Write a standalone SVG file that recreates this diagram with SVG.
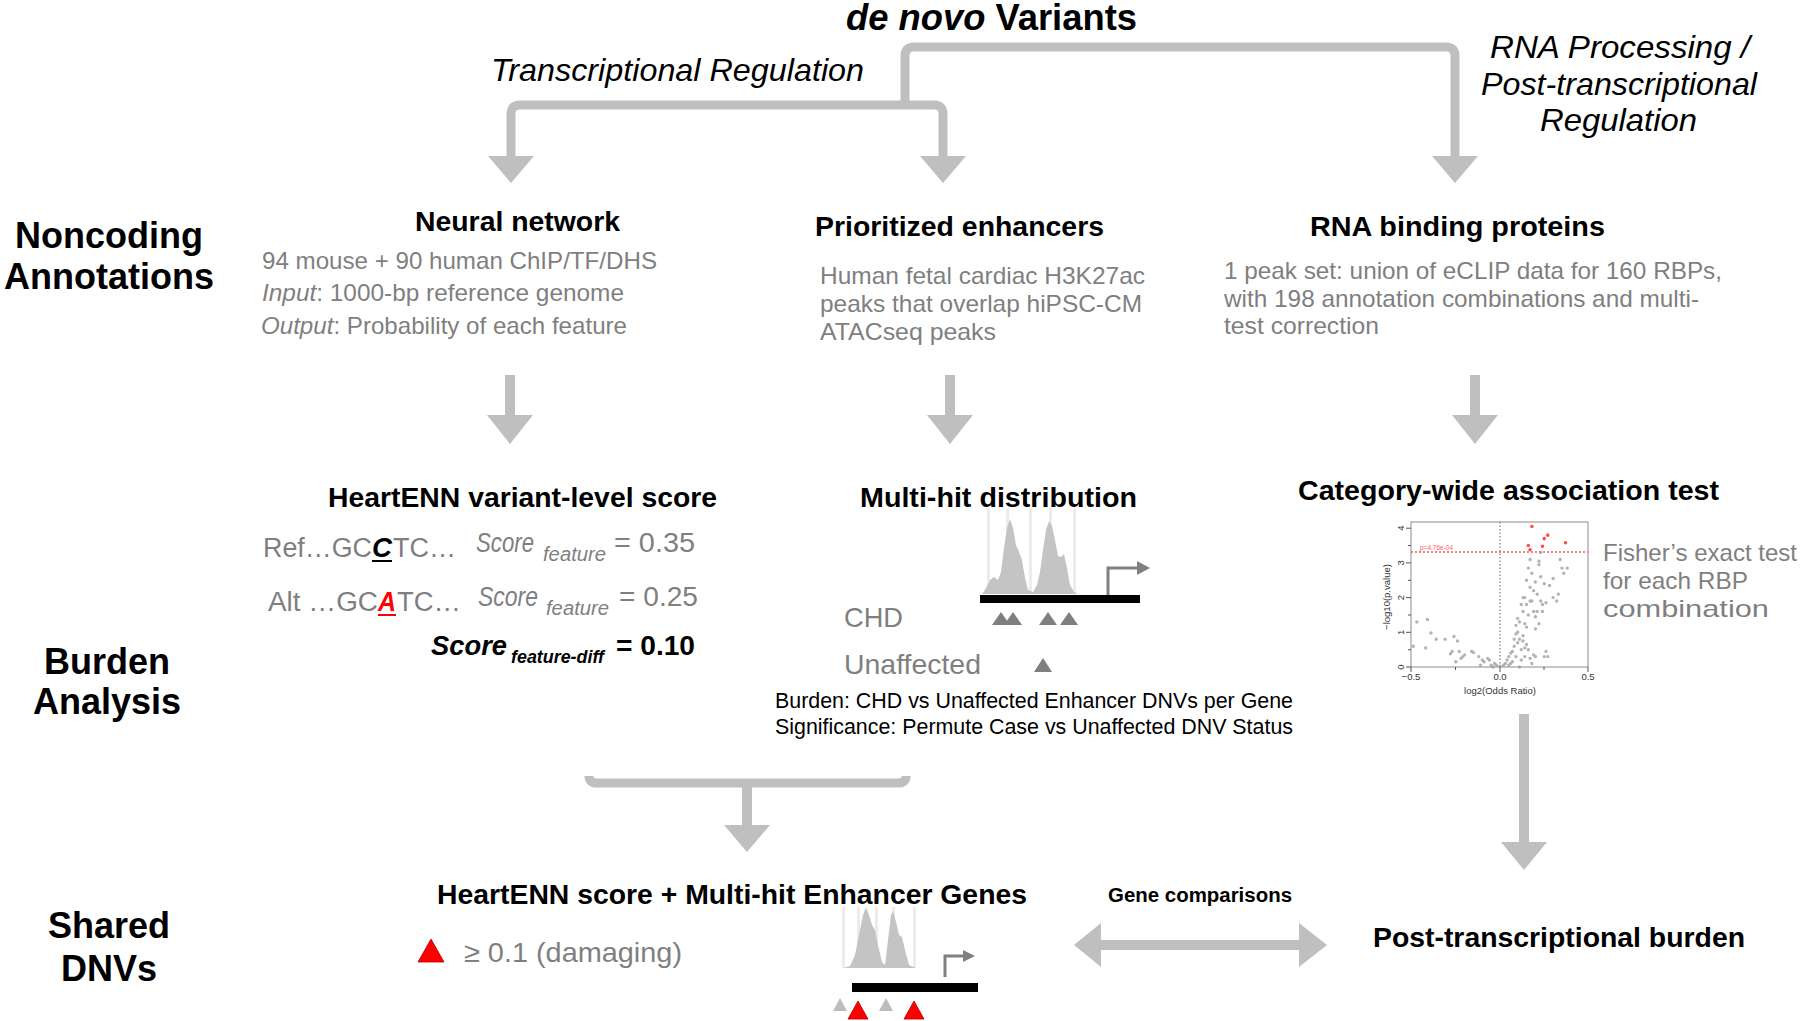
<svg xmlns="http://www.w3.org/2000/svg" width="1800" height="1021" viewBox="0 0 1800 1021">
<defs>
<style>
text{font-family:"Liberation Sans",Arial,sans-serif;}
.conn{fill:none;stroke:#bfbfbf;stroke-width:9;}
.shaft{stroke:#bfbfbf;stroke-width:10;}
.head{fill:#bfbfbf;}
.side{font-size:36px;font-weight:bold;fill:#000;text-anchor:middle;}
.hdr{font-size:28px;font-weight:bold;fill:#000;}
.gray{font-size:24px;fill:#7f7f7f;}
.branch{font-size:32px;font-style:italic;fill:#000;}
.seq{font-size:27px;fill:#7f7f7f;}
.score{font-size:28px;font-style:italic;fill:#7f7f7f;}
.sub{font-size:20px;font-style:italic;fill:#7f7f7f;}
.lab{font-size:28px;fill:#7f7f7f;}
.blk{font-size:22px;fill:#000;}
.peak{fill:#c4c4c4;}
.streak{fill:#ececec;}
.tri{fill:#7f7f7f;}
.ltri{fill:#bdbdbd;}
.rtri{fill:#ff0000;stroke:#b00000;stroke-width:0.8;}
.prom{fill:none;stroke:#808080;stroke-width:3;}
.promh{fill:#808080;}
.ax{font-size:9.5px;fill:#333;}
</style>
</defs>
<rect width="1800" height="1021" fill="#fff"/>

<g id="connectors">
  <path class="conn" d="M511,158 L511,114 Q511,105 520,105 L934,105 Q943,105 943,114 L943,158"/>
  <path class="conn" d="M905,105 L905,56 Q905,47 914,47 L1446,47 Q1455,47 1455,56 L1455,158"/>
  <polygon class="head" points="488,156 534,156 511,183"/>
  <polygon class="head" points="920,156 966,156 943,183"/>
  <polygon class="head" points="1432,156 1478,156 1455,183"/>
  <line class="shaft" x1="510" y1="375" x2="510" y2="418"/>
  <polygon class="head" points="487,415 533,415 510,444"/>
  <line class="shaft" x1="950" y1="375" x2="950" y2="418"/>
  <polygon class="head" points="927,415 973,415 950,444"/>
  <line class="shaft" x1="1475" y1="375" x2="1475" y2="418"/>
  <polygon class="head" points="1452,415 1498,415 1475,444"/>
  <path class="conn" d="M589,776 Q589,783 597,783 L898,783 Q906,783 906,776"/>
  <line class="shaft" x1="747" y1="783" x2="747" y2="827"/>
  <polygon class="head" points="724,825 770,825 747,852"/>
  <line class="shaft" x1="1524" y1="714" x2="1524" y2="845"/>
  <polygon class="head" points="1501,842 1547,842 1524,870"/>
  <polygon class="head" points="1074,945 1101,923 1101,940 1299,940 1299,923 1327,945 1299,967 1299,950 1101,950 1101,967"/>
</g>

<g id="title">
  <text x="846" y="30" font-size="36" font-weight="bold" textLength="291" lengthAdjust="spacingAndGlyphs"><tspan font-style="italic">de novo</tspan> Variants</text>
</g>
<g id="branch-labels">
  <text class="branch" x="491" y="81" textLength="373" lengthAdjust="spacingAndGlyphs">Transcriptional Regulation</text>
  <text class="branch" x="1490" y="58" textLength="260" lengthAdjust="spacingAndGlyphs">RNA Processing /</text>
  <text class="branch" x="1481" y="95" textLength="276" lengthAdjust="spacingAndGlyphs">Post-transcriptional</text>
  <text class="branch" x="1540" y="131" textLength="157" lengthAdjust="spacingAndGlyphs">Regulation</text>
</g>

<g id="row-labels">
  <text class="side" x="109" y="248">Noncoding</text>
  <text class="side" x="109" y="289">Annotations</text>
  <text class="side" x="107" y="674">Burden</text>
  <text class="side" x="107" y="714">Analysis</text>
  <text class="side" x="109" y="938">Shared</text>
  <text class="side" x="109" y="981">DNVs</text>
</g>

<g id="neural-network">
  <text class="hdr" x="415" y="231" textLength="205" lengthAdjust="spacingAndGlyphs">Neural network</text>
  <text class="gray" x="262" y="269" textLength="395" lengthAdjust="spacingAndGlyphs">94 mouse + 90 human ChIP/TF/DHS</text>
  <text class="gray" x="262" y="301" textLength="362" lengthAdjust="spacingAndGlyphs"><tspan font-style="italic">Input</tspan>: 1000-bp reference genome</text>
  <text class="gray" x="261" y="334" textLength="366" lengthAdjust="spacingAndGlyphs"><tspan font-style="italic">Output</tspan>: Probability of each feature</text>
</g>

<g id="prioritized-enhancers">
  <text class="hdr" x="815" y="236" textLength="289" lengthAdjust="spacingAndGlyphs">Prioritized enhancers</text>
  <text class="gray" x="820" y="284" textLength="325" lengthAdjust="spacingAndGlyphs">Human fetal cardiac H3K27ac</text>
  <text class="gray" x="820" y="312" textLength="322" lengthAdjust="spacingAndGlyphs">peaks that overlap hiPSC-CM</text>
  <text class="gray" x="820" y="340" textLength="176" lengthAdjust="spacingAndGlyphs">ATACseq peaks</text>
</g>

<g id="rna-binding-proteins">
  <text class="hdr" x="1310" y="236" textLength="295" lengthAdjust="spacingAndGlyphs">RNA binding proteins</text>
  <text class="gray" x="1224" y="279" textLength="498" lengthAdjust="spacingAndGlyphs">1 peak set: union of eCLIP data for 160 RBPs,</text>
  <text class="gray" x="1224" y="307" textLength="475" lengthAdjust="spacingAndGlyphs">with 198 annotation combinations and multi-</text>
  <text class="gray" x="1224" y="334" textLength="155" lengthAdjust="spacingAndGlyphs">test correction</text>
</g>

<g id="heartenn-score">
  <text class="hdr" x="328" y="507" textLength="389" lengthAdjust="spacingAndGlyphs">HeartENN variant-level score</text>
  <text class="seq" x="263" y="557" textLength="109" lengthAdjust="spacingAndGlyphs">Ref…GC</text>
  <text x="372" y="557" font-size="27" font-weight="bold" font-style="italic" fill="#000" textLength="20" lengthAdjust="spacingAndGlyphs">C</text>
  <line x1="372" y1="561" x2="392" y2="561" stroke="#000" stroke-width="2"/>
  <text class="seq" x="393" y="557" textLength="63" lengthAdjust="spacingAndGlyphs">TC…</text>
  <text class="seq" x="268" y="611" textLength="110" lengthAdjust="spacingAndGlyphs">Alt …GC</text>
  <text x="378" y="611" font-size="27" font-weight="bold" font-style="italic" fill="#ff0000" textLength="18" lengthAdjust="spacingAndGlyphs">A</text>
  <line x1="378" y1="615" x2="396" y2="615" stroke="#ff0000" stroke-width="2"/>
  <text class="seq" x="397" y="611" textLength="64" lengthAdjust="spacingAndGlyphs">TC…</text>
  <text class="score" x="476" y="552" textLength="58" lengthAdjust="spacingAndGlyphs">Score</text>
  <text class="sub" x="543" y="561" textLength="63" lengthAdjust="spacingAndGlyphs">feature</text>
  <text class="seq" x="614" y="552" textLength="81" lengthAdjust="spacingAndGlyphs">= 0.35</text>
  <text class="score" x="478" y="606" textLength="60" lengthAdjust="spacingAndGlyphs">Score</text>
  <text class="sub" x="546" y="615" textLength="63" lengthAdjust="spacingAndGlyphs">feature</text>
  <text class="seq" x="619" y="606" textLength="79" lengthAdjust="spacingAndGlyphs">= 0.25</text>
  <text x="431" y="655" font-size="28" font-weight="bold" font-style="italic" fill="#000" textLength="76" lengthAdjust="spacingAndGlyphs">Score</text>
  <text x="511" y="663" font-size="19" font-weight="bold" font-style="italic" fill="#000" textLength="93" lengthAdjust="spacingAndGlyphs">feature-diff</text>
  <text x="616" y="655" font-size="28" font-weight="bold" fill="#000" textLength="79" lengthAdjust="spacingAndGlyphs">= 0.10</text>
</g>

<g id="multi-hit-distribution">
  <text class="hdr" x="860" y="507" textLength="277" lengthAdjust="spacingAndGlyphs">Multi-hit distribution</text>
  <rect class="streak" x="987" y="508" width="3" height="86"/>
  <rect class="streak" x="1006" y="508" width="3" height="86"/>
  <rect class="streak" x="1029" y="508" width="3" height="86"/>
  <rect class="streak" x="1049" y="508" width="3" height="86"/>
  <rect class="streak" x="1073" y="508" width="3" height="86"/>
  <path class="peak" d="M982,594 L986,588 L990,580 L994,577 L998,580 L1001,572 L1004,548 L1007,528 L1010,519 L1013,528 L1016,545 L1019,552 L1022,560 L1025,578 L1028,590 L1033,592 L1037,585 L1040,572 L1043,550 L1046,530 L1049,521 L1052,526 L1055,540 L1058,556 L1061,557 L1064,554 L1067,568 L1070,585 L1074,592 L1078,594 Z"/>
  <rect x="980" y="595" width="160" height="8" fill="#000"/>
  <path class="prom" d="M1108,595 V568 H1139"/>
  <polygon class="promh" points="1137,561 1150,568 1137,575"/>
  <polygon class="tri" points="992,625 1001,612 1010,625"/>
  <polygon class="tri" points="1004,625 1013,612 1022,625"/>
  <polygon class="tri" points="1039,625 1048,612 1057,625"/>
  <polygon class="tri" points="1060,625 1069,612 1078,625"/>
  <polygon class="tri" points="1034,672 1043,658 1052,672"/>
  <text class="lab" x="844" y="627" textLength="59" lengthAdjust="spacingAndGlyphs">CHD</text>
  <text class="lab" x="844" y="674" textLength="137" lengthAdjust="spacingAndGlyphs">Unaffected</text>
  <text class="blk" x="775" y="708" textLength="518" lengthAdjust="spacingAndGlyphs">Burden: CHD vs Unaffected Enhancer DNVs per Gene</text>
  <text class="blk" x="775" y="734" textLength="518" lengthAdjust="spacingAndGlyphs">Significance: Permute Case vs Unaffected DNV Status</text>
</g>

<g id="category-wide-test">
  <text class="hdr" x="1298" y="500" textLength="421" lengthAdjust="spacingAndGlyphs">Category-wide association test</text>
  <rect x="1411" y="522" width="177" height="145" fill="#fff" stroke="#8c8c8c" stroke-width="1"/>
  <line x1="1500" y1="522" x2="1500" y2="667" stroke="#666" stroke-width="1" stroke-dasharray="1.5,2"/>
  <line x1="1411" y1="552" x2="1588" y2="552" stroke="#ff5a5a" stroke-width="1.3" stroke-dasharray="2,2"/>
  <text x="1420" y="550" font-size="6.5" fill="#ff5a5a">p=4.76e-04</text>
  <g stroke="#555" stroke-width="1">
    <line x1="1406" y1="667" x2="1411" y2="667"/>
    <line x1="1406" y1="632.3" x2="1411" y2="632.3"/>
    <line x1="1406" y1="597.6" x2="1411" y2="597.6"/>
    <line x1="1406" y1="562.9" x2="1411" y2="562.9"/>
    <line x1="1406" y1="528.2" x2="1411" y2="528.2"/>
    <line x1="1408" y1="649.7" x2="1411" y2="649.7"/>
    <line x1="1408" y1="615" x2="1411" y2="615"/>
    <line x1="1408" y1="580.3" x2="1411" y2="580.3"/>
    <line x1="1408" y1="545.6" x2="1411" y2="545.6"/>
    <line x1="1411" y1="667" x2="1411" y2="672"/>
    <line x1="1500" y1="667" x2="1500" y2="672"/>
    <line x1="1588" y1="667" x2="1588" y2="672"/>
    <line x1="1455.5" y1="667" x2="1455.5" y2="670"/>
    <line x1="1544" y1="667" x2="1544" y2="670"/>
  </g>
  <text class="ax" transform="translate(1404,667) rotate(-90)" text-anchor="middle">0</text>
  <text class="ax" transform="translate(1404,632.3) rotate(-90)" text-anchor="middle">1</text>
  <text class="ax" transform="translate(1404,597.6) rotate(-90)" text-anchor="middle">2</text>
  <text class="ax" transform="translate(1404,562.9) rotate(-90)" text-anchor="middle">3</text>
  <text class="ax" transform="translate(1404,528.2) rotate(-90)" text-anchor="middle">4</text>
  <text class="ax" x="1411" y="680" text-anchor="middle">−0.5</text>
  <text class="ax" x="1500" y="680" text-anchor="middle">0.0</text>
  <text class="ax" x="1588" y="680" text-anchor="middle">0.5</text>
  <text class="ax" x="1500" y="694" text-anchor="middle" font-size="10">log2(Odds Ratio)</text>
  <text class="ax" transform="translate(1390,597) rotate(-90)" text-anchor="middle" font-size="10">−log10(p.value)</text>
  <g transform="translate(1500,667) scale(177,-34.7)">
    <path fill="none" stroke="#9a9a9a" stroke-opacity="0.75" stroke-width="3.4" stroke-linecap="round" vector-effect="non-scaling-stroke" d="M-0.47,1.3h0M-0.49,0.6h0M-0.41,1.37h0M-0.42,0.55h0M-0.39,0.98h0M-0.36,0.8h0M-0.31,0.8h0M-0.26,0.88h0M-0.27,0.45h0M-0.24,0.75h0M-0.28,0.38h0M-0.23,0.45h0M-0.22,0.25h0M-0.21,0.3h0M-0.16,0.45h0M-0.15,0.42h0M-0.12,0.3h0M-0.1,0.2h0M-0.09,0.15h0M-0.07,0.25h0M-0.06,0.2h0M-0.05,0.05h0M-0.03,0.1h0M-0.02,0.05h0M-0.11,0.05h0M-0.04,0h0M-0.25,0.15h0M-0.2,0.35h0M0,0.02h0M0.02,0.05h0M0.03,0.1h0M0.04,0.2h0M0.05,0.3h0M0.06,0.4h0M0.07,0.45h0M0.06,0.1h0M0.08,0.6h0M0.08,0.8h0M0.09,0.95h0M0.1,0.7h0M0.1,1h0M0.11,1.3h0M0.12,0.5h0M0.13,0.9h0M0.13,1.6h0M0.14,1.25h0M0.15,1.8h0M0.15,0.65h0M0.16,1.5h0M0.14,2h0M0.15,2.5h0M0.16,2.85h0M0.17,3.1h0M0.17,2.3h0M0.18,1.9h0M0.19,1.6h0M0.19,2.2h0M0.2,2.45h0M0.2,1.45h0M0.21,2.1h0M0.22,2.95h0M0.22,3.05h0M0.23,3.3h0M0.23,1.9h0M0.24,1.8h0M0.24,1.6h0M0.25,2.4h0M0.25,0.3h0M0.26,0.45h0M0.27,0.3h0M0.3,2h0M0.3,2.55h0M0.32,1.9h0M0.33,2.1h0M0.34,3.1h0M0.35,2.85h0M0.36,2.7h0M0.38,2.85h0M0.12,0.2h0M0.09,0.3h0M0.14,0.3h0M0.17,0.25h0M0.2,0.3h0M0.18,0.1h0M0.11,0h0M0.16,0.5h0M0.13,0.75h0M0.1,1.4h0M0.12,1.8h0M0.07,0.15h0M0.05,0.05h0M0.19,0.35h0M0.22,1.25h0M0.2,1.1h0M0.11,0.8h0M0.15,1.15h0M0.13,2h0M0.17,1.9h0M0.26,1.85h0M0.28,2.35h0M0.23,2.6h0M0.18,2.7h0M0.21,1.6h0M0.09,1.2h0M0.14,0.55h0"/>
    <path fill="none" stroke="#ff4d4d" stroke-width="3.6" stroke-linecap="round" vector-effect="non-scaling-stroke" d="M0.18,4.05h0M0.27,3.8h0M0.25,3.7h0M0.16,3.5h0M0.24,3.48h0M0.17,3.38h0M0.37,3.58h0"/>
  </g>
  <text class="gray" x="1603" y="561" textLength="194" lengthAdjust="spacingAndGlyphs">Fisher’s exact test</text>
  <text class="gray" x="1603" y="589" textLength="145" lengthAdjust="spacingAndGlyphs">for each RBP</text>
  <text class="gray" x="1603" y="617" textLength="166" lengthAdjust="spacingAndGlyphs">combination</text>
</g>

<g id="shared-genes">
  <text class="hdr" x="437" y="904" textLength="590" lengthAdjust="spacingAndGlyphs">HeartENN score + Multi-hit Enhancer Genes</text>
  <polygon class="rtri" points="418,962 431,939 444,962"/>
  <text class="lab" x="464" y="962" font-size="27" textLength="218" lengthAdjust="spacingAndGlyphs">≥ 0.1 (damaging)</text>
  <rect class="streak" x="842" y="907" width="3" height="61"/>
  <rect class="streak" x="857" y="907" width="3" height="61"/>
  <rect class="streak" x="875" y="907" width="3" height="61"/>
  <rect class="streak" x="892" y="907" width="3" height="61"/>
  <rect class="streak" x="913" y="907" width="3" height="61"/>
  <path class="peak" d="M843,968 L850,966 L855,955 L859,935 L863,915 L866,907 L869,915 L872,925 L875,930 L878,945 L882,962 L885,965 L888,940 L891,915 L893,911 L896,922 L899,935 L902,937 L905,950 L909,965 L916,968 Z"/>
  <rect x="852" y="983" width="126" height="9" fill="#000"/>
  <path class="prom" d="M945,977 V956 H965"/>
  <polygon class="promh" points="963,950 975,956 963,962"/>
  <polygon class="ltri" points="833,1011 840,998 847,1011"/>
  <polygon class="rtri" points="848,1019 858,1001 868,1019"/>
  <polygon class="ltri" points="879,1011 886,998 893,1011"/>
  <polygon class="rtri" points="904,1019 914,1001 924,1019"/>
</g>

<g id="gene-comparisons">
  <text x="1108" y="902" font-size="20" font-weight="bold" fill="#000" textLength="184" lengthAdjust="spacingAndGlyphs">Gene comparisons</text>
</g>

<g id="post-transcriptional-burden">
  <text class="hdr" x="1373" y="947" textLength="372" lengthAdjust="spacingAndGlyphs">Post-transcriptional burden</text>
</g>
</svg>
